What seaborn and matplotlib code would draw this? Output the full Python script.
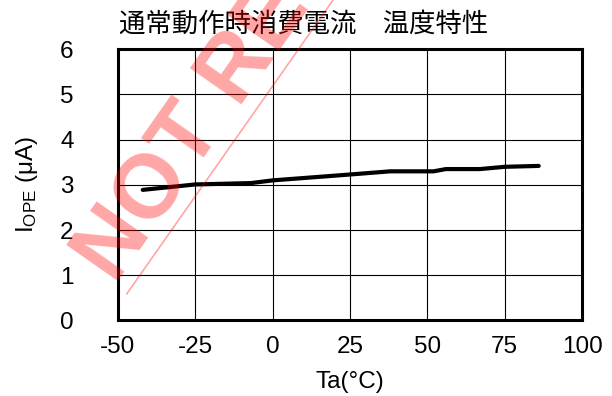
"""通常動作時消費電流 温度特性グラフ."""
import numpy as np
import pandas as pd
import matplotlib
matplotlib.use("Agg")
import matplotlib.pyplot as plt
from matplotlib.lines import Line2D
import seaborn as sns

# データ
temp_c = [-42, -25, -7, 0, 25, 38, 52, 56, 67, 75, 86]
iope_ua = [2.89, 3.01, 3.04, 3.10, 3.23, 3.30, 3.30, 3.35, 3.35, 3.40, 3.42]

x_ticks = [-50, -25, 0, 25, 50, 75, 100]
y_ticks = [0, 1, 2, 3, 4, 5, 6]

title = "通常動作時消費電流　温度特性"
x_label = "Ta(°C)"
y_label = r"$\mathregular{I_{OPE}}$ (μA)"
watermark = "NOT RECOMMENDED"

sns.set_theme(style="white")
plt.rcParams["font.family"] = ["Liberation Sans", "Noto Sans CJK JP", "DejaVu Sans"]
plt.rcParams["mathtext.fontset"] = "custom"
plt.rcParams["mathtext.rm"] = "Liberation Sans"

df = pd.DataFrame({"temp": temp_c, "iope": iope_ua})

fig = plt.figure(figsize=(6.12, 3.96), dpi=100)
ax = fig.add_axes([0.1928, 0.1907, 0.7582, 0.6848])

sns.lineplot(data=df, x="temp", y="iope", ax=ax, color="black", linewidth=3.0,
             solid_capstyle="round", zorder=3)

ax.set_xlim(-50, 100)
ax.set_ylim(0, 6)
ax.set_xticks(x_ticks)
ax.set_yticks(y_ticks)
ax.set_xticklabels([str(v) for v in x_ticks])
ax.set_yticklabels([str(v) for v in y_ticks])
ax.tick_params(axis="both", length=0, labelsize=17.5, colors="black")
ax.tick_params(axis="x", pad=11)
ax.tick_params(axis="y", pad=32)
ax.set_xlabel("")
ax.set_ylabel("")
ax.grid(True, color="black", linewidth=0.8)
for sp in ax.spines.values():
    sp.set_color("black")
    sp.set_linewidth(2.2)
    sp.set_zorder(4)

fig.text(0.4957, 0.939, title, ha="center", va="center", fontsize=19,
         family=["Noto Sans CJK JP", "DejaVu Sans"], color="black")
fig.text(0.572, 0.035, x_label, ha="center", va="center", fontsize=17.5, color="black")
fig.text(0.044, 0.535, y_label, ha="center", va="center", rotation=90,
         fontsize=17.5, color="black")

# 透かし
fig.text(115 / 612, 1 - 285 / 396, watermark, rotation=55, rotation_mode="anchor",
         ha="left", va="baseline", fontsize=65, fontweight="bold",
         color="red", alpha=0.35, zorder=10)
fig.add_artist(Line2D([0.207, 0.676], [0.2576, 1.29], transform=fig.transFigure,
                      color="red", alpha=0.35, linewidth=1.2, zorder=10))

fig.savefig("out.png", dpi=100)
